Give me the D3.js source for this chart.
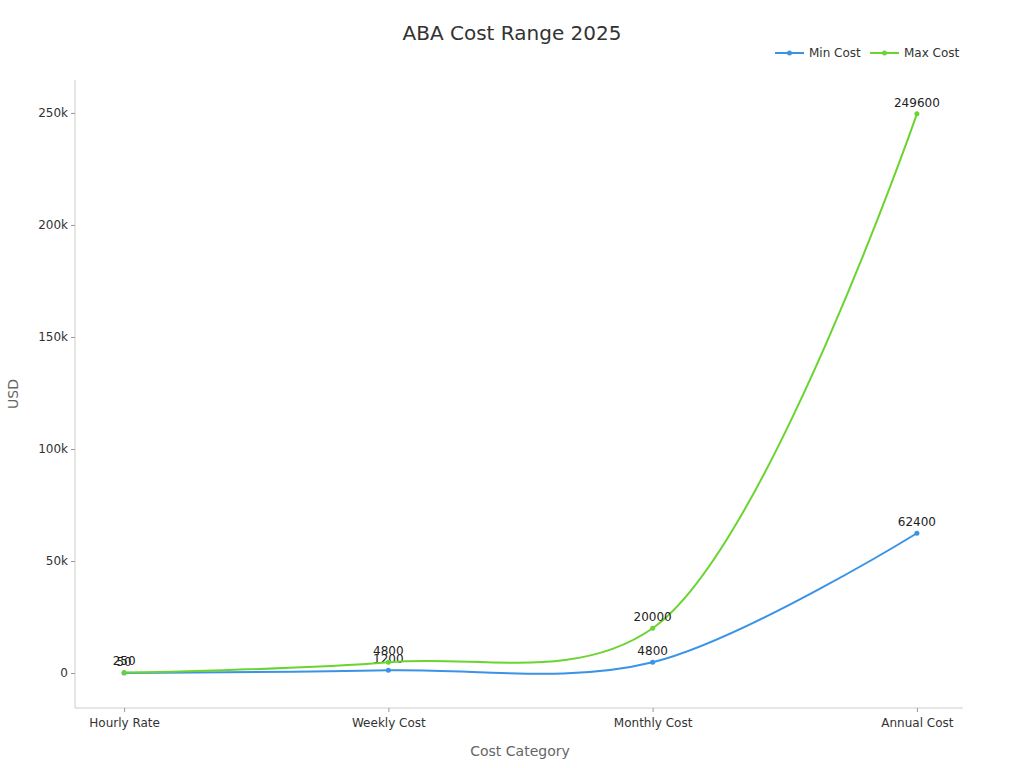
<!DOCTYPE html>
<html><head><meta charset="utf-8">
<script src="https://cdn.jsdelivr.net/npm/d3@7"></script>
<style>body{margin:0;background:#fff;font-family:"DejaVu Sans",sans-serif;}</style>
</head><body><svg width="1024" height="768"></svg>
<script>
const categories = ['Hourly Rate', 'Weekly Cost', 'Monthly Cost', 'Annual Cost'];
const minCost = [50, 1200, 4800, 62400];
const maxCost = [250, 4800, 20000, 249600];
const yTicks = [0, 50000, 100000, 150000, 200000, 250000];
const series = [
	{ name: 'Min Cost', color: '#3b93e6', values: minCost },
	{ name: 'Max Cost', color: '#6ad431', values: maxCost }
];

const svg = d3.select('svg');
const plotLeft = 75, plotRight = 963, plotTop = 80, plotBottom = 708;

const x = d3.scalePoint().domain(categories).range([plotLeft + 1, plotRight + 2]).padding(0.182);
const y = d3.scaleLinear().domain([-15600, 264700]).range([plotBottom, plotTop]);

svg.append('text').attr('x', 512).attr('y', 40).attr('text-anchor', 'middle')
	.attr('font-size', 20).attr('fill', '#333').text('ABA Cost Range 2025');

// axes
svg.append('line').attr('x1', plotLeft).attr('x2', plotLeft).attr('y1', plotTop).attr('y2', plotBottom).attr('stroke', '#ccc');
svg.append('line').attr('x1', plotLeft).attr('x2', plotRight).attr('y1', plotBottom).attr('y2', plotBottom).attr('stroke', '#ccc');

const yAxis = svg.append('g').attr('transform', `translate(${plotLeft},0)`)
	.call(d3.axisLeft(y).tickValues(yTicks).tickSize(4)
		.tickFormat(d => d === 0 ? '0' : d / 1000 + 'k'));
yAxis.select('.domain').remove();
yAxis.selectAll('line').attr('stroke', '#999');
yAxis.selectAll('text').attr('font-size', 12).attr('fill', '#333').attr('font-family', 'DejaVu Sans');

const xAxis = svg.append('g').attr('transform', `translate(0,${plotBottom})`)
	.call(d3.axisBottom(x).tickSize(4).tickPadding(6));
xAxis.select('.domain').remove();
xAxis.selectAll('line').attr('stroke', '#999');
xAxis.selectAll('text').attr('font-size', 12).attr('fill', '#333').attr('font-family', 'DejaVu Sans');

svg.append('text').attr('x', 520).attr('y', 756).attr('text-anchor', 'middle')
	.attr('font-size', 14).attr('fill', '#666').text('Cost Category');
svg.append('text').attr('transform', 'translate(18,394) rotate(-90)').attr('text-anchor', 'middle')
	.attr('font-size', 14).attr('fill', '#666').text('USD');

const line = d3.line().x((d, i) => x(categories[i])).y(d => y(d)).curve(d3.curveCatmullRom.alpha(0.5));

series.forEach(s => {
	svg.append('path').datum(s.values).attr('d', line).attr('fill', 'none')
		.attr('stroke', s.color).attr('stroke-width', 2);
	svg.selectAll(null).data(s.values).enter().append('circle')
		.attr('cx', (d, i) => x(categories[i])).attr('cy', d => y(d)).attr('r', 2.5).attr('fill', s.color);
	svg.selectAll(null).data(s.values).enter().append('text')
		.attr('x', (d, i) => x(categories[i])).attr('y', d => y(d) - 7)
		.attr('text-anchor', 'middle').attr('font-size', 12).attr('fill', '#222').text(d => d);
});

// legend
series.forEach((s, i) => {
	const lx = [775, 870][i];
	svg.append('line').attr('x1', lx).attr('x2', lx + 29).attr('y1', 53).attr('y2', 53).attr('stroke', s.color).attr('stroke-width', 2);
	svg.append('circle').attr('cx', lx + 14.5).attr('cy', 53).attr('r', 2.5).attr('fill', s.color);
	svg.append('text').attr('x', lx + 34).attr('y', 57).attr('font-size', 12).attr('fill', '#333').text(s.name);
});
</script></body></html>
